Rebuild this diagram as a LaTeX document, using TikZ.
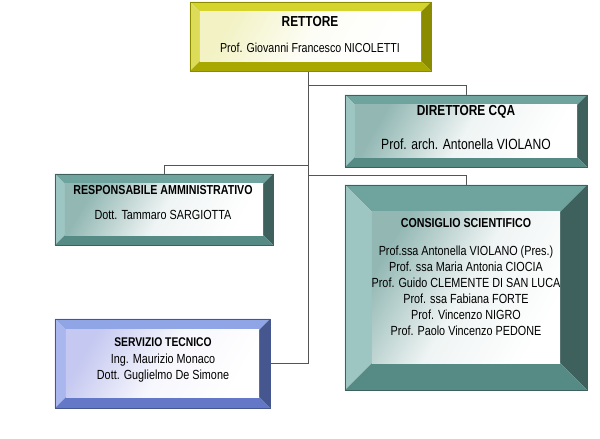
\documentclass[tikz,border=0pt]{standalone}
\usepackage{fontspec}
\setmainfont{Liberation Sans}[FakeStretch=0.82]
\usetikzlibrary{calc}
\definecolor{yTop}{HTML}{D4D42C}
\definecolor{yLeft}{HTML}{DCDC58}
\definecolor{yRight}{HTML}{8B8B00}
\definecolor{yBot}{HTML}{A8A800}
\definecolor{yIn}{HTML}{F2F2C4}
\definecolor{tTop}{HTML}{6FA39D}
\definecolor{tLeft}{HTML}{9DC5C1}
\definecolor{tRight}{HTML}{3F615E}
\definecolor{tBot}{HTML}{568A84}
\definecolor{tIn}{HTML}{93B8B4}
\definecolor{bTop}{HTML}{8FA5E6}
\definecolor{bLeft}{HTML}{A9B7EE}
\definecolor{bRight}{HTML}{46578F}
\definecolor{bBot}{HTML}{6478C8}
\definecolor{bIn}{HTML}{C5C8F0}
\definecolor{lineC}{HTML}{555555}
% #1 name, #2 bevel, #3 top, #4 left, #5 right, #6 bottom, #7 inner
\newcommand\bevelbox[7]{%
  \coordinate (#1-a) at ($(#1.north west)+(#2,#2)$);
  \coordinate (#1-b) at ($(#1.north east)+(-#2,#2)$);
  \coordinate (#1-c) at ($(#1.south east)+(-#2,-#2)$);
  \coordinate (#1-d) at ($(#1.south west)+(#2,-#2)$);
  \fill[#3] (#1.north west) -- (#1.north east) -- (#1-b) -- (#1-a) -- cycle;
  \fill[#4] (#1.north west) -- (#1-a) -- (#1-d) -- (#1.south west) -- cycle;
  \fill[#5] (#1.north east) -- (#1.south east) -- (#1-c) -- (#1-b) -- cycle;
  \fill[#6] (#1.south west) -- (#1-d) -- (#1-c) -- (#1.south east) -- cycle;
  \shade[left color=#7, right color=white, middle color=white!85!#7, shading angle=60] (#1-a) rectangle (#1-c);
  \draw[#5, line width=0.5pt] (#1.north west) rectangle (#1.south east);
}
\tikzset{
  boxframe/.style={draw=none, inner sep=0pt, minimum width=#1},
  conn/.style={draw=lineC, line width=0.9pt},
  ttl/.style={font=\fontsize{13}{15}\selectfont\bfseries, inner sep=0pt, align=center},
  sub/.style={font=\fontsize{13.2}{16}\selectfont, inner sep=0pt, align=center},
}
\begin{document}
\begin{tikzpicture}[x=1pt, y=-1pt]
\useasboundingbox (0,0) rectangle (600,439);
\fill[white] (0,0) rectangle (600,439);
% frames
\node[boxframe=241pt, minimum height=69pt] (rett) at (310.5,36.5) {};
\node[boxframe=242pt, minimum height=72pt] (dir) at (466,131) {};
\node[boxframe=218pt, minimum height=71pt] (resp) at (164,209.5) {};
\node[boxframe=242pt, minimum height=205pt] (cons) at (466,287.5) {};
\node[boxframe=215pt, minimum height=89pt] (serv) at (162.5,363.5) {};
% connectors
\coordinate (trunk) at (308,0);
\coordinate (h1) at (0,85);
\coordinate (h2) at (0,165);
\coordinate (h3) at (0,175);
\draw[conn] (trunk |- rett.south) -- (trunk |- serv.east) -- (serv.east);
\draw[conn] (trunk |- h1) -- (dir.north |- h1) -- (dir.north);
\draw[conn] (trunk |- h2) -- (resp.north |- h2) -- (resp.north);
\draw[conn] (trunk |- h3) -- (cons.north |- h3) -- (cons.north);
% boxes
\bevelbox{rett}{10}{yTop}{yLeft}{yRight}{yBot}{yIn}
\bevelbox{dir}{10}{tTop}{tLeft}{tRight}{tBot}{tIn}
\bevelbox{resp}{10}{tTop}{tLeft}{tRight}{tBot}{tIn}
\bevelbox{cons}{27}{tTop}{tLeft}{tRight}{tBot}{tIn}
\bevelbox{serv}{11}{bTop}{bLeft}{bRight}{bBot}{bIn}
% texts
\node[ttl, font=\fontsize{14.5}{16}\selectfont\bfseries] (rettT) at (310,22) {RETTORE};
\node[sub, font=\fontsize{13}{15}\selectfont] (rettS) at (310,48) {Prof. Giovanni Francesco NICOLETTI};
\node[ttl, font=\fontsize{14.5}{16}\selectfont\bfseries] (dirT) at (466,112) {DIRETTORE CQA};
\node[sub, font=\fontsize{14.8}{16}\selectfont] (dirS) at (466,144) {Prof. arch. Antonella VIOLANO};
\node[ttl] (respT) at (163,190) {RESPONSABILE AMMINISTRATIVO};
\node[sub] (respS) at (163,215) {Dott. Tammaro SARGIOTTA};
\node[ttl] (consT) at (466,223) {CONSIGLIO SCIENTIFICO};
\node[sub, font=\fontsize{13.2}{15.9}\selectfont] (consS) at (466,291) {Prof.ssa Antonella VIOLANO (Pres.)\\Prof. ssa Maria Antonia CIOCIA\\Prof. Guido CLEMENTE DI SAN LUCA\\Prof. ssa Fabiana FORTE\\Prof. Vincenzo NIGRO\\Prof. Paolo Vincenzo PEDONE};
\node[ttl, font=\fontsize{12.6}{15}\selectfont\bfseries] (servT) at (163,342) {SERVIZIO TECNICO};
\node[sub, font=\fontsize{13.2}{16}\selectfont] (servS) at (163,368) {Ing. Maurizio Monaco\\Dott. Guglielmo De Simone};
\end{tikzpicture}
\end{document}
